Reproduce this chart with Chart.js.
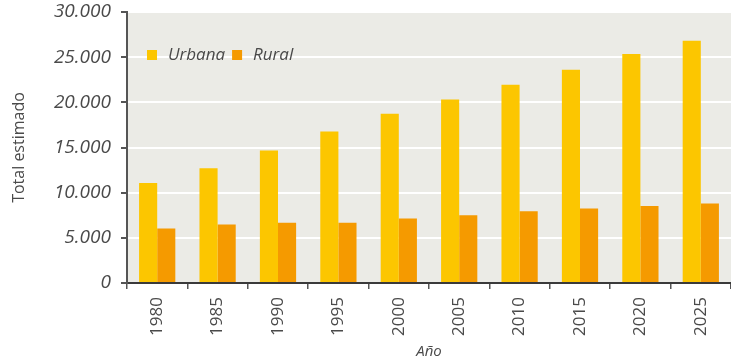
<!DOCTYPE html>
<html>
<head>
<meta charset="utf-8">
<script src="https://cdn.jsdelivr.net/npm/chart.js@4/dist/chart.umd.min.js"></script>
<style>
  html, body { margin: 0; padding: 0; background: #ffffff; }
  #wrap { width: 731px; height: 363px; }
</style>
</head>
<body>
<div id="wrap"><canvas id="c" width="731" height="363"></canvas></div>
<script>
// Población estimada por año (urbana y rural)
const years = ['1980', '1985', '1990', '1995', '2000', '2005', '2010', '2015', '2020', '2025'];
const urbana = [11070, 12700, 14680, 16780, 18730, 20310, 21940, 23620, 25360, 26830];
const rural = [6040, 6480, 6660, 6660, 7140, 7510, 7950, 8250, 8530, 8800];
const yTicks = [0, 5000, 10000, 15000, 20000, 25000, 30000];

const FONT = "'Open Sans', 'Noto Sans', sans-serif";
const TEXT = '#4a4a4a';
const AXIS = '#555555';

// Gray panel behind the bars
const panelBg = {
  id: 'panelBg',
  beforeDraw(chart) {
    const { ctx, chartArea: a } = chart;
    ctx.save();
    ctx.fillStyle = '#ebebe6';
    ctx.fillRect(a.left, a.top, a.right - a.left, a.bottom - a.top);
    ctx.restore();
  }
};

// Legend drawn inside the panel, top-left
const innerLegend = {
  id: 'innerLegend',
  afterDraw(chart) {
    const { ctx, chartArea: a } = chart;
    let x = a.left + 20;
    const y = a.top + 43;
    ctx.save();
    ctx.font = 'italic 17px ' + FONT;
    ctx.textBaseline = 'middle';
    chart.data.datasets.forEach(ds => {
      ctx.fillStyle = ds.backgroundColor;
      ctx.fillRect(x, y - 5, 10, 10);
      x += 21;
      ctx.fillStyle = TEXT;
      ctx.fillText(ds.label, x, y);
      x += ctx.measureText(ds.label).width + 7;
    });
    ctx.restore();
  }
};

new Chart(document.getElementById('c'), {
  type: 'bar',
  data: {
    labels: years,
    datasets: [
      { label: 'Urbana', data: urbana, backgroundColor: '#fcc600' },
      { label: 'Rural', data: rural, backgroundColor: '#f59a00' }
    ]
  },
  options: {
    responsive: false,
    animation: false,
    layout: { padding: { top: 12, right: 0, left: 0, bottom: 0 } },
    datasets: { bar: { categoryPercentage: 0.6, barPercentage: 1.0 } },
    plugins: { legend: { display: false }, tooltip: { enabled: false } },
    scales: {
      x: {
        afterFit(s) { s.height = 80; s.paddingLeft = 0; s.paddingRight = 0; },
        border: { display: true, color: '#3a3a3a', width: 2 },
        grid: { display: true, drawOnChartArea: false, color: AXIS, tickColor: AXIS, tickLength: 6, lineWidth: 1.5 },
        ticks: {
          color: TEXT, font: { family: FONT, size: 17 },
          minRotation: 90, maxRotation: 90, padding: 8, autoSkip: false
        },
        title: {
          display: true, text: 'Año', color: TEXT,
          font: { family: FONT, size: 15, style: 'italic' },
          padding: { top: 0, bottom: 2 }
        }
      },
      y: {
        min: 0, max: 30000,
        afterFit(s) { s.width = 127; s.paddingTop = 0; s.paddingBottom = 0; },
        afterBuildTicks(s) { s.ticks = yTicks.map(v => ({ value: v })); },
        border: { display: true, color: AXIS, width: 2 },
        grid: { color: '#ffffff', lineWidth: 2, tickColor: AXIS, tickLength: 6 },
        ticks: {
          color: TEXT, padding: 10,
          font: { family: FONT, size: 19, style: 'italic' },
          callback: v => v.toLocaleString('de-DE')
        },
        title: {
          display: true, text: 'Total estimado', color: TEXT,
          font: { family: FONT, size: 16 },
          padding: { top: 10, bottom: 0 }
        }
      }
    }
  },
  plugins: [panelBg, innerLegend]
});
</script>
</body>
</html>
